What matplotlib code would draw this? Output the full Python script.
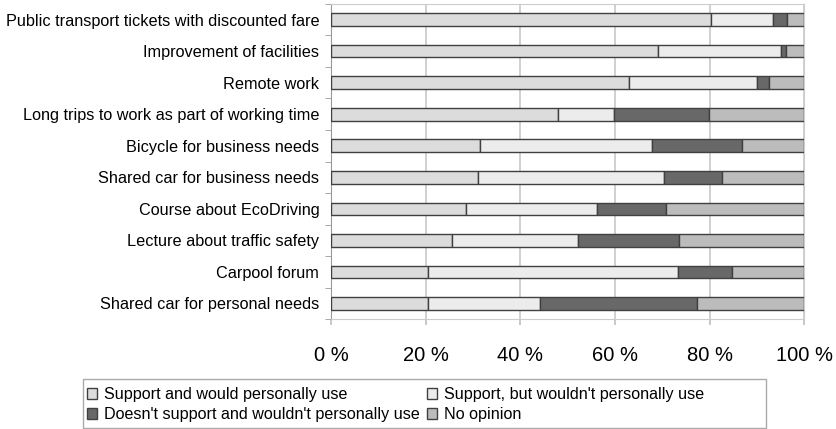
import matplotlib.pyplot as plt
from matplotlib.patches import Rectangle
import numpy as np

plt.rcParams['font.family'] = ['Liberation Sans', 'DejaVu Sans']

categories = ['Public transport tickets with discounted fare',
              'Improvement of facilities',
              'Remote work',
              'Long trips to work as part of working time',
              'Bicycle for business needs',
              'Shared car for business needs',
              'Course about EcoDriving',
              'Lecture about traffic safety',
              'Carpool forum',
              'Shared car for personal needs']

support_use = [80.2, 69.1, 62.9, 48.0, 31.5, 31.1, 28.5, 25.6, 20.5, 20.5]
support_no_use = [13.1, 26.0, 27.2, 11.8, 36.3, 39.3, 27.7, 26.5, 52.9, 23.6]
no_support = [3.0, 1.1, 2.5, 20.0, 19.0, 12.2, 14.5, 21.4, 11.4, 33.2]
no_opinion = [3.7, 3.8, 7.4, 20.2, 13.2, 17.4, 29.3, 26.5, 15.2, 22.7]

series_names = ['Support and would personally use',
                "Support, but wouldn't personally use",
                "Doesn't support and wouldn't personally use",
                'No opinion']
colors = ['#dcdcdc', '#ececec', '#686868', '#bcbcbc']
tick_labels = ['0 %', '20 %', '40 %', '60 %', '80 %', '100 %']

fig = plt.figure(figsize=(8.36, 4.29), dpi=100)
ax = fig.add_axes([0.396, 0.256, 0.566, 0.735])

y = np.arange(len(categories))
left = np.zeros(len(categories))
bars = []
for vals, name, c in zip([support_use, support_no_use, no_support, no_opinion], series_names, colors):
    b = ax.barh(y, vals, left=left, height=0.4, color=c, edgecolor='#404040',
                linewidth=1.0, label=name, zorder=3)
    bars.append(b)
    left += np.array(vals)

ax.set_xlim(0, 100)
ax.set_ylim(len(categories) - 0.5, -0.5)
ax.set_xticks([0, 20, 40, 60, 80, 100])
ax.set_xticklabels(tick_labels, fontsize=14.5)
ax.tick_params(axis='x', length=4, color='#c0c0c0', width=1.2, pad=15)
ax.set_yticks(y)
ax.set_yticklabels(categories, fontsize=11.7)
ax.set_yticks(np.arange(len(categories) + 1) - 0.5, minor=True)
ax.tick_params(axis='y', which='major', length=0, pad=8.5)
ax.tick_params(axis='y', which='minor', length=4, color='#999999')
ax.grid(axis='x', color='#c8c8c8', linewidth=1.2, zorder=0)
for s in ax.spines.values():
    s.set_color('#cccccc')
ax.spines['left'].set_color('#999999')

# legend filled row by row like the original
order = [0, 2, 1, 3]
leg = fig.legend(handles=[bars[i] for i in order], labels=[series_names[i] for i in order],
                 ncol=2, loc='center left', bbox_to_anchor=(87 / 836, 1 - 404.5 / 429),
                 fontsize=11.6, frameon=False, handlelength=0.65, handleheight=0.65,
                 handletextpad=0.4, columnspacing=0.45, labelspacing=0.3,
                 borderpad=0, borderaxespad=0)
fig.patches.append(Rectangle((83 / 836, 1 - 428 / 429), 683 / 836, 49 / 429,
                             transform=fig.transFigure, fill=False,
                             edgecolor='#aaaaaa', linewidth=1.0))

fig.savefig('out.png', dpi=100)
